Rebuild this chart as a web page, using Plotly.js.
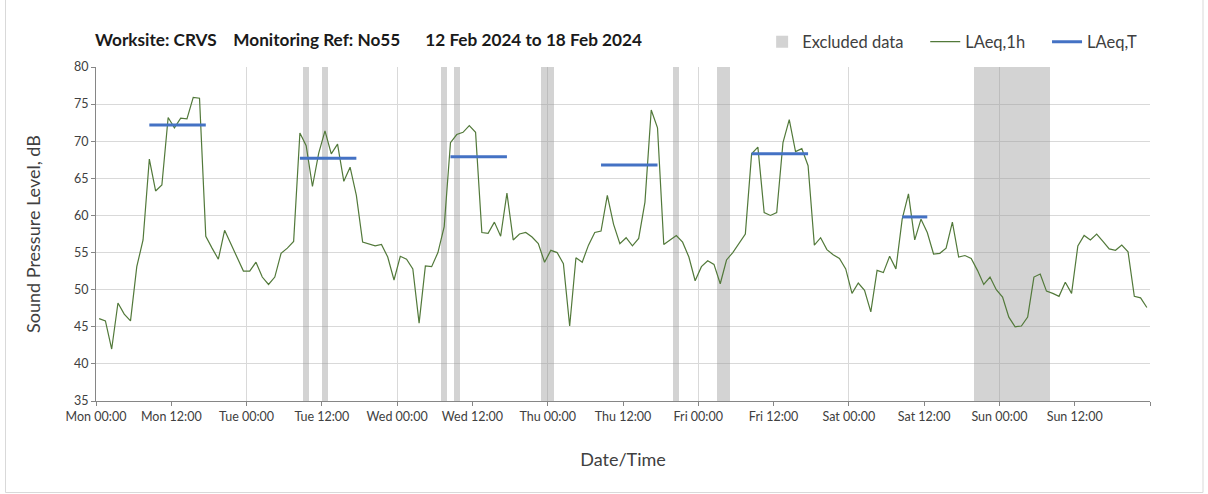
<!DOCTYPE html>
<html>
<head>
<meta charset="utf-8">
<script src="https://cdn.plot.ly/plotly-3.0.1.min.js"></script>
<style>
  html, body { margin: 0; padding: 0; background: #ffffff; }
  #chart { width: 1208px; height: 494px; }
</style>
</head>
<body>
<div id="chart"></div>
<script>
// ---- Data (hourly LAeq,1h in dB, one array per day, hour 00..23) ----
const mon = [46.1, 45.8, 42.0, 48.2, 46.7, 45.8, 53.1, 56.7, 67.6, 63.3, 64.1, 73.2,
             71.8, 73.1, 73.0, 75.9, 75.8, 57.2, 55.6, 54.1, 58.0, 56.1, 54.3, 52.5];
const tue = [52.5, 53.7, 51.7, 50.7, 51.7, 54.9, 55.6, 56.5, 71.1, 69.4, 63.9, 68.4,
             71.4, 68.3, 69.6, 64.6, 66.5, 62.7, 56.4, 56.1, 55.9, 56.1, 54.4, 51.3];
const wed = [54.5, 54.1, 52.8, 45.5, 53.2, 53.1, 55.0, 58.5, 69.8, 70.9, 71.2, 72.1,
             71.2, 57.7, 57.6, 59.1, 57.2, 63.0, 56.7, 57.5, 57.7, 57.1, 56.2, 53.7];
const thu = [55.3, 55.0, 53.5, 45.1, 54.3, 53.7, 56.0, 57.7, 57.9, 62.7, 58.8, 56.2,
             57.0, 55.9, 56.9, 61.8, 74.2, 71.8, 56.1, 56.7, 57.3, 56.4, 54.4, 51.2];
const fri = [53.1, 53.9, 53.4, 50.8, 54.0, 55.0, 56.2, 57.5, 68.3, 69.2, 60.4, 60.0,
             60.4, 69.8, 72.9, 68.6, 69.0, 66.7, 56.0, 57.0, 55.4, 54.7, 54.2, 52.8];
const sat = [49.5, 50.9, 49.9, 47.0, 52.6, 52.3, 54.5, 52.8, 59.5, 62.9, 56.7, 59.5,
             57.7, 54.8, 54.9, 55.6, 59.1, 54.4, 54.6, 54.2, 52.6, 50.7, 51.7, 50.0];
const sun = [49.0, 46.3, 45.0, 45.1, 46.3, 51.7, 52.1, 49.8, 49.5, 49.1, 51.0, 49.5,
             55.9, 57.3, 56.7, 57.5, 56.5, 55.5, 55.3, 56.0, 55.1, 49.1, 48.9, 47.6];

// LAeq,T periods (day index, first hour, last hour, level dB)
const periodDay   = [0, 1, 2, 3, 4, 5];
const periodStart = [8, 8, 8, 8, 8, 8];
const periodEnd   = [17, 17, 17, 17, 17, 12];
const periodLevel = [72.2, 67.7, 67.9, 66.8, 68.3, 59.8];

// Excluded hours (hour index counted from Mon 00:00)
const excludedHours = [33, 36, 55, 57, 71, 72, 92, 99, 100,
                       140, 141, 142, 143, 144, 145, 146, 147, 148, 149, 150, 151];

// Axis labels
const dayNames = ['Mon', 'Tue', 'Wed', 'Thu', 'Fri', 'Sat', 'Sun'];
const halfDayLabels = ['00:00', '12:00'];
const yRange = [35, 80];

// ---- Build series ----
const laeq1h = [].concat(mon, tue, wed, thu, fri, sat, sun);
const nHours = laeq1h.length;
const hourCentres = laeq1h.map((_, i) => i + 0.5);

const laeqT = laeq1h.map(() => null);
periodDay.forEach((d, k) => {
  for (let h = periodStart[k]; h <= periodEnd[k]; h++) laeqT[d * 24 + h] = periodLevel[k];
});

const tickVals = [], tickText = [];
for (let d = 0; d <= dayNames.length; d++) {
  for (let j = 0; j < halfDayLabels.length; j++) {
    const v = d * 24 + j * 12;
    if (v > nHours) break;
    tickVals.push(v);
    tickText.push(d < dayNames.length ? dayNames[d] + ' ' + halfDayLabels[j] : '');
  }
}
const dayVals = dayNames.map((_, d) => d * 24).concat([nHours]);

const FONT = 'Lato, "Open Sans", sans-serif';
const AXIS_GREY = '#868686';
const GRID_GREY = '#d9d9d9';
const PAD = '\u00a0\u00a0\u00a0\u00a0';

const traces = [
  {
    type: 'bar', name: 'Excluded data' + PAD,
    x: excludedHours.map(h => h + 0.5),
    y: excludedHours.map(() => yRange[1]),
    width: 1,
    marker: { color: 'rgba(150,150,150,0.42)', line: { width: 0 } },
    xaxis: 'x', yaxis: 'y', hoverinfo: 'skip'
  },
  {
    type: 'scatter', mode: 'lines', name: 'LAeq,1h' + PAD,
    x: hourCentres, y: laeq1h,
    line: { color: '#52793a', width: 1.2 },
    xaxis: 'x2', yaxis: 'y'
  },
  {
    type: 'scatter', mode: 'lines', name: 'LAeq,T',
    x: hourCentres, y: laeqT, connectgaps: false,
    line: { color: '#4472c4', width: 3 },
    xaxis: 'x2', yaxis: 'y'
  }
];

const layout = {
  width: 1208, height: 494,
  margin: { l: 96, r: 58, t: 67, b: 93 },
  paper_bgcolor: '#ffffff', plot_bgcolor: '#ffffff',
  font: { family: FONT, color: '#404040', size: 12 },
  bargap: 0,
  showlegend: true,
  title: {
    text: 'Worksite: CRVS\u00a0\u00a0\u00a0 Monitoring Ref: No55\u00a0\u00a0\u00a0\u00a0\u00a0 12 Feb 2024 to 18 Feb 2024',
    font: { family: FONT, size: 17.2, color: '#1a1a1a', weight: 700 },
    xref: 'container', yref: 'container',
    x: 95 / 1208, xanchor: 'left',
    y: 1 - 40 / 494, yanchor: 'middle'
  },
  legend: {
    orientation: 'h',
    x: 0.632, xanchor: 'left',
    y: 1.075, yanchor: 'middle',
    font: { family: FONT, size: 16.5, color: '#404040' },
    bgcolor: 'rgba(0,0,0,0)',
    traceorder: 'normal'
  },
  xaxis: {
    range: [0, nHours],
    tickmode: 'array', tickvals: dayVals,
    showticklabels: false, ticks: '',
    showgrid: true, gridcolor: GRID_GREY, gridwidth: 1,
    showline: true, linecolor: AXIS_GREY, linewidth: 1,
    zeroline: false, fixedrange: true
  },
  xaxis2: {
    overlaying: 'x', anchor: 'y', side: 'bottom',
    range: [0, nHours],
    tickmode: 'array', tickvals: tickVals, ticktext: tickText,
    ticks: 'outside', ticklen: 4, tickcolor: AXIS_GREY, tickwidth: 1,
    tickfont: { family: FONT, size: 12.5, color: '#404040' },
    showgrid: false, showline: false, zeroline: false, fixedrange: true,
    title: { text: 'Date/Time', font: { family: FONT, size: 18, color: '#404040' }, standoff: 30 }
  },
  yaxis: {
    range: yRange, tick0: 35, dtick: 5,
    ticks: 'outside', ticklen: 4, tickcolor: AXIS_GREY, tickwidth: 1,
    tickfont: { family: FONT, size: 12.5, color: '#404040' },
    showgrid: true, gridcolor: GRID_GREY, gridwidth: 1,
    showline: true, linecolor: AXIS_GREY, linewidth: 1,
    zeroline: false, fixedrange: true,
    title: { text: 'Sound Pressure Level, dB', font: { family: FONT, size: 18, color: '#404040' }, standoff: 28 }
  },
  shapes: [
    { type: 'path', xref: 'paper', yref: 'paper',
      path: 'M ' + (-90.5 / 1054) + ',' + (410 / 334) + ' L ' + (-90.5 / 1054) + ',' + (-91.5 / 334) +
            ' L ' + (1107 / 1054) + ',' + (-91.5 / 334) + ' L ' + (1107 / 1054) + ',' + (410 / 334),
      line: { color: '#d9d9d9', width: 1 }, layer: 'below' }
  ]
};

Plotly.newPlot('chart', traces, layout, { displayModeBar: false, staticPlot: true });
</script>
</body>
</html>
